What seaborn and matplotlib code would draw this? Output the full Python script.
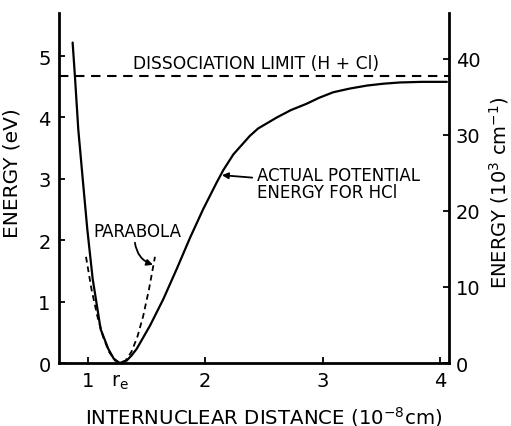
import matplotlib
matplotlib.use("Agg")
import matplotlib.pyplot as plt
import seaborn as sns
import pandas as pd

# Potential energy curve of HCl (eV vs internuclear distance, 1e-8 cm)
r_actual = [0.869, 0.889, 0.917, 0.955, 0.994, 1.04, 1.108, 1.173, 1.22, 1.27,
            1.33, 1.37, 1.415, 1.529, 1.642, 1.756, 1.87, 1.983, 2.097, 2.153,
            2.24, 2.38, 2.45, 2.61, 2.73, 2.86, 2.97, 3.09, 3.23, 3.38, 3.52,
            3.66, 3.85, 4.06]
v_actual = [5.22, 4.66, 3.81, 3.00, 2.18, 1.37, 0.55, 0.23, 0.07, 0.0,
            0.04, 0.12, 0.23, 0.61, 1.04, 1.53, 2.04, 2.51, 2.94, 3.14,
            3.40, 3.70, 3.82, 4.00, 4.12, 4.22, 4.32, 4.41, 4.47, 4.52, 4.55,
            4.57, 4.58, 4.58]

# Harmonic (parabolic) approximation near the minimum
r_parab = [0.983, 1.03, 1.08, 1.13, 1.18, 1.23, 1.275, 1.32, 1.37, 1.42,
           1.47, 1.52, 1.571]
v_parab = [1.73, 1.20, 0.76, 0.42, 0.18, 0.04, 0.0, 0.04, 0.18, 0.42,
           0.76, 1.20, 1.73]

dissociation_ev = 4.67
r_e = 1.27
ev_to_kcm = 8.0655  # 1 eV = 8065.5 cm^-1

x_ticks = [1, 2, 3, 4]
y_ticks_ev = [0, 1, 2, 3, 4, 5]
y_ticks_cm = [0, 10, 20, 30, 40]

sns.set_style("ticks")
plt.rcParams["font.family"] = ["DejaVu Sans"]
plt.rcParams["mathtext.default"] = "regular"
for key in ["text.color", "axes.labelcolor", "xtick.color", "ytick.color",
            "axes.edgecolor"]:
    plt.rcParams[key] = "black"

fig = plt.figure(figsize=(5.11, 4.27), dpi=100)
ax = fig.add_axes([0.1155, 0.1475, 0.7632, 0.8195])

df_a = pd.DataFrame({"r": r_actual, "V": v_actual})
df_p = pd.DataFrame({"r": r_parab, "V": v_parab})

sns.lineplot(data=df_a, x="r", y="V", ax=ax, color="black", lw=1.6, sort=False)
sns.lineplot(data=df_p, x="r", y="V", ax=ax, color="black", lw=1.3, sort=False,
             linestyle=(0, (3.2, 2.2)))
ax.axhline(dissociation_ev, color="black", lw=1.5, linestyle=(0, (4.5, 3.2)))

ax.set_xlim(0.753, 4.078)
ax.set_ylim(0, 5.70)
ax.set_xticks(x_ticks)
ax.set_xticklabels([str(t) for t in x_ticks])
ax.set_yticks(y_ticks_ev)

for s in ["top", "right"]:
    ax.spines[s].set_visible(False)
for s in ["left", "bottom"]:
    ax.spines[s].set_linewidth(2.0)
ax.tick_params(direction="in", length=4, width=1.3, labelsize=14, pad=6)

ax2 = ax.twinx()
ax2.set_ylim(0, 5.70 * ev_to_kcm)
ax2.set_yticks(y_ticks_cm)
for s in ["top", "left", "bottom"]:
    ax2.spines[s].set_visible(False)
ax2.spines["right"].set_linewidth(2.0)
ax2.tick_params(direction="in", length=4, width=1.3, labelsize=14, pad=5)

ax.set_xlabel("INTERNUCLEAR DISTANCE (10$^{-8}$cm)", fontsize=14.2)
ax.xaxis.set_label_coords(0.526, -0.116)
ax.set_ylabel("ENERGY (eV)", fontsize=14.5)
ax.yaxis.set_label_coords(-0.096, 0.545)
ax2.set_ylabel("ENERGY (10$^3$ cm$^{-1}$)", fontsize=14)
ax2.yaxis.set_label_coords(1.098, 0.49)

ax.text(r_e, -0.066, "r$_e$", transform=ax.get_xaxis_transform(),
        ha="center", va="baseline", fontsize=14)

ax.text(2.43, 4.88, "DISSOCIATION LIMIT (H + Cl)", ha="center", va="center",
        fontsize=12.3)
ax.text(2.44, 2.92, "ACTUAL POTENTIAL\nENERGY FOR HCl", ha="left", va="center",
        fontsize=12, linespacing=0.95)
ax.annotate("", xy=(2.142, 3.06), xytext=(2.40, 3.02),
            arrowprops=dict(arrowstyle="-|>", color="black", lw=1.3,
                            mutation_scale=9, shrinkA=0, shrinkB=0))

ax.text(1.418, 2.15, "PARABOLA", ha="center", va="center", fontsize=12)
ax.annotate("", xy=(1.554, 1.60), xytext=(1.40, 1.96),
            arrowprops=dict(arrowstyle="-|>", color="black", lw=1.3,
                            mutation_scale=9, shrinkA=0, shrinkB=0,
                            connectionstyle="arc3,rad=0.3"))

fig.savefig("out.png", dpi=100)
